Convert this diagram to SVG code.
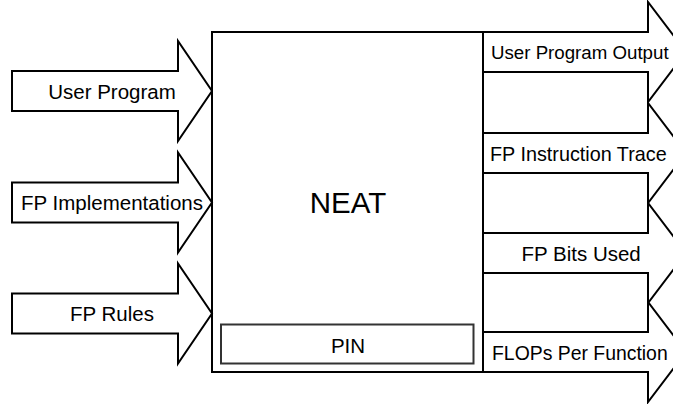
<svg xmlns="http://www.w3.org/2000/svg" width="673" height="404" viewBox="0 0 673 404">
  <style>
    .shape { fill: #ffffff; stroke: #000000; stroke-width: 2; stroke-linejoin: miter; }
    .pin { fill: #ffffff; stroke: #333333; stroke-width: 2; }
    .lbl { font-family: "Liberation Sans", Arial, Helvetica, sans-serif; font-size: 20.5px; fill: #000000; }
    .mid { text-anchor: middle; }
    .big { font-size: 29.5px; }
  </style>
  <rect x="0" y="0" width="673" height="404" fill="#ffffff"/>

  <g id="neat">
    <rect class="shape" x="212" y="32" width="271" height="340"/>
    <text class="lbl big mid" x="348" y="213">NEAT</text>
  </g>
  <g id="pin">
    <rect class="pin" x="221" y="324.5" width="252.5" height="39"/>
    <text class="lbl mid" x="348" y="352.5">PIN</text>
  </g>

  <g id="connectors">
    <g id="in-user-program">
      <polygon class="shape" points="12,71 178,71 178,41 212,91 178,141 178,111 12,111"/>
      <text class="lbl mid" x="112" y="98.5">User Program</text>
    </g>
    <g id="in-fp-implementations">
      <polygon class="shape" points="12,182.5 178,182.5 178,152.5 212,202.5 178,252.5 178,222.5 12,222.5"/>
      <text class="lbl mid" x="112" y="210">FP Implementations</text>
    </g>
    <g id="in-fp-rules">
      <polygon class="shape" points="12,293.5 178,293.5 178,263.5 212,313.5 178,363.5 178,333.5 12,333.5"/>
      <text class="lbl mid" x="112" y="321">FP Rules</text>
    </g>

    <g id="out-user-program-output">
      <polygon class="shape" points="483,32 648,32 648,2 686,52 648,102 648,72 483,72"/>
      <text class="lbl" x="491" y="59" style="font-size:18.7px">User Program Output</text>
    </g>
    <g id="out-fp-instruction-trace">
      <polygon class="shape" points="483,133 648,133 648,103 686,153 648,203 648,173 483,173"/>
      <text class="lbl" x="490" y="160.5" style="font-size:19.8px">FP Instruction Trace</text>
    </g>
    <g id="out-fp-bits-used">
      <polygon class="shape" points="483,233 648,233 648,203 686,253 648,303 648,273 483,273"/>
      <text class="lbl" x="521.5" y="260.5">FP Bits Used</text>
    </g>
    <g id="out-flops-per-function">
      <polygon class="shape" points="483,332 648,332 648,302 686,352 648,402 648,372 483,372"/>
      <text class="lbl" x="492" y="359.5" style="font-size:19.4px">FLOPs Per Function</text>
    </g>
  </g>
</svg>
